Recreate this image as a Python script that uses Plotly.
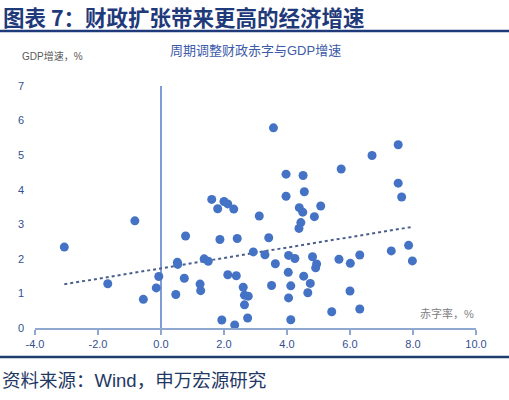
import numpy as np
import plotly.graph_objects as go

# 周期调整财政赤字（%） vs GDP增速（%）
deficit = [
    -3.07, -0.83, -1.69, -0.56, -0.07, -0.15, 0.47, 0.52, 0.53, 0.78,
    0.74, 1.24, 1.26, 1.37, 1.50, 1.87, 2.42, 2.12, 2.39, 2.61,
    2.65, 2.77, 2.65, 1.93, 2.75, 2.34, 2.93, 3.12, 1.61, 1.80,
    2.00, 2.12, 2.31, 3.57, 3.97, 4.51, 4.55, 3.97, 4.39, 4.50,
    4.87, 5.07, 4.44, 4.38, 3.42, 3.30, 3.63, 4.05, 4.25, 4.04,
    4.12, 4.05, 4.12, 3.51, 4.53, 4.74, 4.66, 4.81, 4.91, 4.94,
    5.72, 6.70, 7.53, 7.53, 7.64, 5.65, 6.01, 6.31, 7.31, 7.86,
    7.98, 6.00, 5.42, 6.31,
]
gdp_growth = [
    2.34, 3.10, 1.28, 0.83, 1.49, 1.16, 0.97, 1.90, 1.84, 2.66,
    1.44, 1.27, 1.08, 2.00, 1.93, 2.56, 2.59, 1.54, 1.51, 1.18,
    0.95, 0.92, 0.67, 0.23, 0.29, 0.09, 2.20, 3.24, 3.72, 3.45,
    3.66, 3.59, 3.44, 5.79, 4.45, 4.41, 3.94, 3.81, 3.48, 3.35,
    3.22, 3.53, 3.05, 2.88, 2.61, 2.12, 1.86, 2.10, 2.01, 1.61,
    1.22, 0.87, 0.24, 1.23, 1.50, 1.29, 1.02, 2.06, 1.74, 1.85,
    4.60, 4.99, 5.30, 4.19, 3.79, 1.99, 1.87, 2.11, 2.23, 2.39,
    1.94, 1.07, 0.47, 0.55,
]

x_ticks = [-4, -2, 0, 2, 4, 6, 8, 10]
y_ticks = [0, 1, 2, 3, 4, 5, 6, 7]

# 线性趋势线
slope, intercept = np.polyfit(deficit, gdp_growth, 1)
trend_x = [min(deficit), max(deficit)]
trend_y = [slope * v + intercept for v in trend_x]

navy = "#1F3A7A"
tick_blue = "#34508F"
font_family = "Liberation Sans, Noto Sans CJK SC, sans-serif"

fig = go.Figure()

fig.add_trace(go.Scatter(
    x=trend_x, y=trend_y,
    mode="lines",
    line=dict(color="#4A5F8C", width=2, dash="dot"),
    showlegend=False,
    hoverinfo="skip",
))

fig.add_trace(go.Scatter(
    x=deficit, y=gdp_growth,
    mode="markers",
    marker=dict(color="#4472C4", size=9),
    showlegend=False,
))

fig.update_xaxes(
    range=[-4, 10],
    tickvals=x_ticks,
    ticktext=[f"{v:.1f}" for v in x_ticks],
    showgrid=False,
    showline=True, linecolor="#8FA8CF", linewidth=2,
    ticks="outside", ticklen=5, tickcolor="#8FA8CF", tickwidth=1.5,
    zeroline=True, zerolinecolor="#7F9CD6", zerolinewidth=1.5,
    tickfont=dict(size=11, color=tick_blue, family=font_family),
)
fig.update_yaxes(
    range=[0, 7],
    tickvals=y_ticks,
    showgrid=False,
    showline=False,
    zeroline=False,
    ticks="",
    ticklabelstandoff=10,
    tickfont=dict(size=11, color=tick_blue, family=font_family),
)

fig.update_layout(
    width=509, height=400,
    paper_bgcolor="white",
    plot_bgcolor="white",
    margin=dict(l=35, r=33, t=86, b=72, autoexpand=False),
    font=dict(family=font_family),
    shapes=[
        dict(type="line", xref="paper", yref="paper",
             x0=-0.08, x1=1.08, y0=1.227, y1=1.227,
             line=dict(color=navy, width=2.5)),
        dict(type="line", xref="paper", yref="paper",
             x0=-0.08, x1=1.08, y0=-0.12, y1=-0.12,
             line=dict(color="#1E3F6E", width=2.5)),
    ],
    annotations=[
        dict(text="<b>图表 7：财政扩张带来更高的经济增速</b>",
             xref="paper", yref="paper", x=-0.076, y=1.289,
             xanchor="left", yanchor="middle", showarrow=False,
             font=dict(size=21.5, color=navy,
                       family="Noto Sans CJK SC, sans-serif")),
        dict(text="周期调整财政赤字与GDP增速",
             xref="paper", yref="paper", x=0.5, y=1.145,
             xanchor="center", yanchor="middle", showarrow=False,
             font=dict(size=13, color="#3D5BA9", family=font_family)),
        dict(text="GDP增速，%",
             xref="paper", yref="paper", x=-0.035, y=1.125,
             xanchor="left", yanchor="middle", showarrow=False,
             font=dict(size=10, color="#595959", family=font_family)),
        dict(text="赤字率，%",
             xref="paper", yref="paper", x=1.0, y=0.06,
             xanchor="right", yanchor="middle", showarrow=False,
             font=dict(size=11, color="#7F7F7F", family=font_family)),
        dict(text="资料来源：Wind，申万宏源研究",
             xref="paper", yref="paper", x=-0.08, y=-0.215,
             xanchor="left", yanchor="middle", showarrow=False,
             font=dict(size=18.5, color="#1F3864", family=font_family)),
    ],
)

# 去掉页面默认的 8px 边距，使图从窗口左上角开始
fig.write_html(
    "out.html",
    config={"displayModeBar": False},
    post_script="document.body.style.margin='0';",
)
